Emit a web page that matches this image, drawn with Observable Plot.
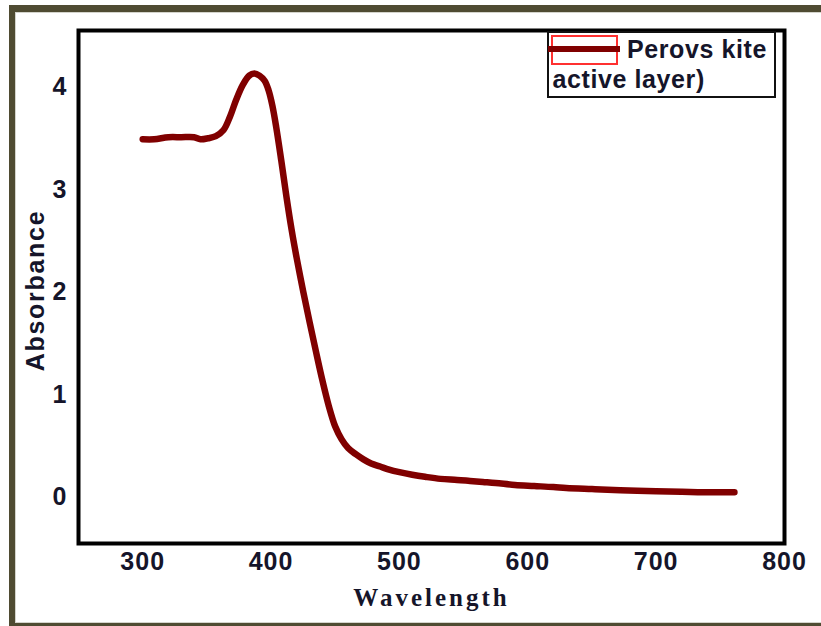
<!DOCTYPE html>
<html>
<head>
<meta charset="utf-8">
<script src="https://cdn.jsdelivr.net/npm/d3@7"></script>
<script src="https://cdn.jsdelivr.net/npm/@observablehq/plot@0.6"></script>
<style>
  body { margin: 0; background: #fff; }
  #wrap { position: relative; width: 821px; height: 626px; overflow: hidden; background: #fff; }
  #wrap svg { position: absolute; left: 0; top: 0; }
  #border { position: absolute; left: 9px; top: 5px; width: 830px; height: 624px; box-sizing: border-box;
            border: 6px solid #4f4b32; border-top-width: 7px; box-shadow: inset 0 0 0 1px #d4d4cc; pointer-events: none; }
  #legend { position: absolute; left: 547px; top: 31px; width: 229px; height: 67px; box-sizing: border-box;
            border: 2px solid #111; background: #fff; font-family: "Liberation Sans", Arial, sans-serif;
            font-weight: bold; font-size: 25px; color: #15152a; letter-spacing: 0.6px; }
  #legend .swatch { position: absolute; left: 2px; top: 2px; width: 67px; height: 30px; box-sizing: border-box; border: 2px solid #ff3030; }
  #legend .sample { position: absolute; left: -1px; top: 13px; width: 72px; height: 6px; background: #800000; }
  #legend .t { position: absolute; line-height: 25px; white-space: nowrap; }
  g[aria-label="x-axis tick label"] text { letter-spacing: 1px; }
  g[aria-label="y-axis tick label"] text { letter-spacing: 1px; }
</style>
</head>
<body>
<div id="wrap"></div>
<script>
const wavelength = [300, 309, 320, 330, 340, 345, 351, 357, 363, 368, 373, 378, 383, 387, 391, 395, 398, 401, 404, 408, 412, 416, 420, 425, 430, 435, 440, 445, 450, 455, 460, 466, 472, 478, 485, 492, 500, 510, 520, 532, 545, 555, 565, 575, 590, 605, 620, 630, 650, 672, 700, 720, 737, 761];
const absorbance = [3.49, 3.49, 3.51, 3.51, 3.51, 3.49, 3.50, 3.52, 3.58, 3.71, 3.88, 4.02, 4.11, 4.13, 4.11, 4.06, 3.97, 3.82, 3.61, 3.28, 2.93, 2.61, 2.33, 2.01, 1.71, 1.42, 1.14, 0.89, 0.69, 0.565, 0.48, 0.42, 0.37, 0.33, 0.30, 0.27, 0.245, 0.22, 0.20, 0.18, 0.17, 0.16, 0.15, 0.14, 0.12, 0.11, 0.10, 0.09, 0.08, 0.07, 0.06, 0.055, 0.05, 0.05];
const xTicks = [300, 400, 500, 600, 700, 800];
const yTicks = [0, 1, 2, 3, 4];
const xLabel = "Wavelength";
const yLabel = "Absorbance";
const legendLines = ["Perovs kite", "active layer)"];

const data = wavelength.map((w, i) => ({w, a: absorbance[i]}));
const ink = "#15152a";

const plot = Plot.plot({
  width: 821,
  height: 626,
  marginLeft: 78,
  marginRight: 37,
  marginTop: 30,
  marginBottom: 83,
  style: {background: "transparent", fontFamily: "'Liberation Sans', Arial, sans-serif", color: ink},
  x: {domain: [250, 800]},
  y: {domain: [-0.45, 4.55]},
  marks: [
    Plot.line(data, {x: "w", y: "a", stroke: "#800000", strokeWidth: 6.5, curve: "catmull-rom", strokeLinecap: "round", strokeLinejoin: "round"}),
    Plot.frame({stroke: "#000", strokeWidth: 4}),
    Plot.axisX({ticks: xTicks, tickFormat: d3.format("d"), tickSize: 0, tickPadding: 9, fontSize: 25, fontWeight: "bold", fill: ink, label: null}),
    Plot.axisY({ticks: yTicks, tickFormat: d3.format("d"), tickSize: 0, tickPadding: 11, fontSize: 25, fontWeight: "bold", fill: ink, label: null}),
    Plot.text([xLabel], {text: d => d, frameAnchor: "bottom", textAnchor: "middle", dy: 54.5, lineAnchor: "middle", fontFamily: "'Liberation Serif', 'Times New Roman', serif", fontWeight: "bold", fontSize: 25, fill: ink}),
    Plot.text([yLabel], {text: d => d, frameAnchor: "left", textAnchor: "middle", rotate: -90, dx: -43, dy: 3.5, lineAnchor: "middle", fontWeight: "bold", fontSize: 25, fill: ink})
  ]
});

const wrap = document.getElementById("wrap");
wrap.appendChild(plot);
d3.select(plot).selectAll("text").filter(function() { return this.textContent === xLabel; }).style("letter-spacing", "3px");
d3.select(plot).selectAll("text").filter(function() { return this.textContent === yLabel; }).style("letter-spacing", "1.7px");

const legend = document.createElement("div");
legend.id = "legend";
legend.innerHTML = `<div class="swatch"></div><div class="sample"></div>
  <div class="t" style="left:78px;top:4px">${legendLines[0]}</div>
  <div class="t" style="left:3.5px;top:34px">${legendLines[1]}</div>`;
wrap.appendChild(legend);

const border = document.createElement("div");
border.id = "border";
wrap.appendChild(border);
</script>
</body>
</html>
